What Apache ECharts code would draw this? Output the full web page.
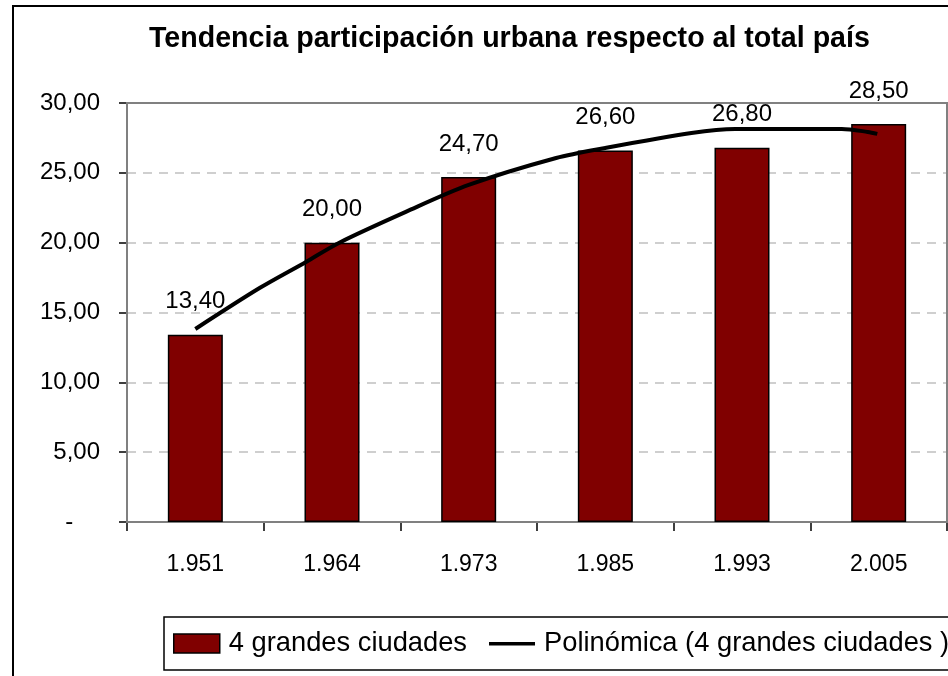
<!DOCTYPE html>
<html>
<head>
<meta charset="utf-8">
<style>
  html, body { margin: 0; padding: 0; background: #fff; }
  #chart-container { width: 948px; height: 676px; }
</style>
<script src="https://cdn.jsdelivr.net/npm/echarts@6/dist/echarts.min.js"></script>
</head>
<body>
<div id="chart-container"></div>
<script>
var dom = document.getElementById("chart-container");
var myChart = echarts.init(dom, null, { renderer: "canvas" });

var years = ["1.951", "1.964", "1.973", "1.985", "1.993", "2.005"];
var cities = [13.4, 20.0, 24.7, 26.6, 26.8, 28.5];

// trend line (x in category units, 0 = first bar)
var trendX = [0, 0.47, 0.81, 1.05, 1.54, 2.0, 2.64, 3.0, 3.63, 3.95, 4.73, 4.92, 4.99];
var trendY = [13.82, 16.75, 18.62, 19.98, 22.2, 24.13, 26.06, 26.78, 27.85, 28.14, 28.14, 27.93, 27.79];

var trendData = trendX.map(function (x, i) { return [x, trendY[i]]; });

var font = "Liberation Sans";

function fmt(v) {
  if (v === 0) return "-    ";
  return v.toFixed(2).replace(".", ",");
}

var option = {
  animation: false,
  backgroundColor: "#fff",
  textStyle: { fontFamily: font, color: "#000" },
  graphic: [
    {
      type: "rect",
      shape: { x: 13, y: 6, width: 1000, height: 700 },
      style: { fill: null, stroke: "#000", lineWidth: 2 },
      z: -1
    }
  ],
  title: {
    text: "Tendencia participación urbana respecto al total país",
    left: 144,
    top: 20,
    textStyle: { fontFamily: font, fontWeight: "bold", fontSize: 28.6, color: "#000" }
  },
  legend: {
    left: 164,
    top: 617,
    width: 1400,
    padding: [13, 9],
    itemGap: 22,
    itemWidth: 46,
    itemHeight: 19,
    borderColor: "#000",
    borderWidth: 1.5,
    backgroundColor: "#fff",
    textStyle: { fontFamily: font, fontSize: 27.3, color: "#000", padding: [0, 0, 0, 4] },
    data: [
      {
        name: "4 grandes ciudades",
        icon: "rect",
        itemStyle: { color: "#800000", borderColor: "#000", borderWidth: 1.5 }
      },
      {
        name: "Polinómica (4 grandes ciudades )",
        icon: "path://M0,0L0,0M0,8H46V11.5H0ZM46,19L46,19",
        itemStyle: { color: "#000", borderWidth: 0 }
      }
    ]
  },
  grid: {
    left: 127,
    right: 1,
    top: 103,
    bottom: 154,
    show: true,
    borderColor: "#808080",
    borderWidth: 2,
    z: 2
  },
  xAxis: [
    {
      type: "category",
      data: years,
      axisLine: { lineStyle: { color: "#000", width: 1.5 } },
      axisTick: { show: true, length: 9, lineStyle: { color: "#000", width: 1.5 } },
      axisLabel: { fontFamily: font, fontSize: 23, color: "#000", margin: 31 }
    },
    {
      type: "value",
      min: -0.5,
      max: 5.5,
      show: false
    }
  ],
  yAxis: {
    type: "value",
    min: 0,
    max: 30,
    interval: 5,
    axisLine: { show: true, onZero: false, lineStyle: { color: "#000", width: 1.5 } },
    axisTick: { show: true, length: 8, lineStyle: { color: "#000", width: 1.5 } },
    axisLabel: { fontFamily: font, fontSize: 24, color: "#000", margin: 27, formatter: fmt },
    splitLine: { lineStyle: { color: "#c0c0c0", width: 1.5, type: [9, 7] } }
  },
  series: [
    {
      name: "4 grandes ciudades",
      type: "bar",
      data: cities,
      barWidth: 55,
      itemStyle: { color: "#800000", borderColor: "#000", borderWidth: 1.5 },
      label: {
        show: true,
        position: "top",
        distance: 21,
        fontFamily: font,
        fontSize: 24,
        color: "#000",
        formatter: function (p) { return fmt(p.value); }
      }
    },
    {
      name: "Polinómica (4 grandes ciudades )",
      type: "line",
      xAxisIndex: 1,
      data: trendData,
      smooth: 0.3,
      symbol: "none",
      lineStyle: { color: "#000", width: 4 },
      itemStyle: { color: "#000" },
      z: 5
    }
  ]
};

if (option && typeof option === "object") {
  myChart.setOption(option);
}

window.addEventListener("resize", myChart.resize);
</script>
</body>
</html>
